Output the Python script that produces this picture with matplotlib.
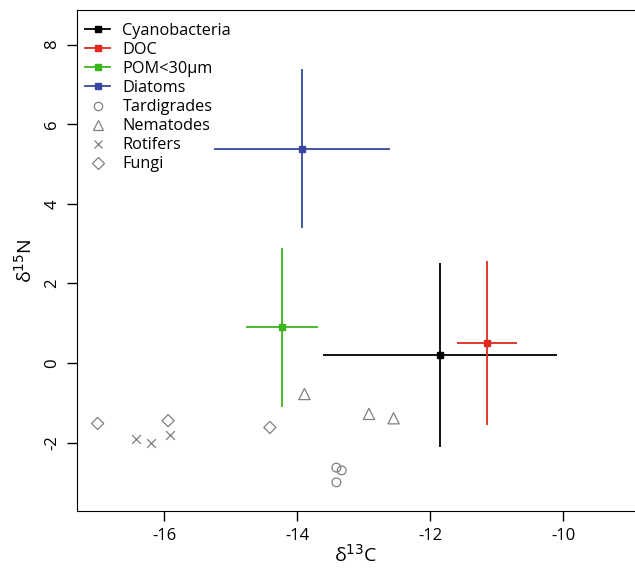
import matplotlib
matplotlib.use("Agg")
import matplotlib.pyplot as plt
from matplotlib.lines import Line2D

plt.rcParams['font.family'] = ['Open Sans', 'DejaVu Sans']
plt.rcParams['axes.unicode_minus'] = False

# Sources (mean +/- sd)
src_names = ["Cyanobacteria", "DOC", "POM<30µm", "Diatoms"]
src_colors = ["#000000", "#e2291f", "#3cb41c", "#3848a0"]
src_x = [-11.85, -11.14, -14.23, -13.93]
src_y = [0.2, 0.5, 0.9, 5.38]
src_xerr = [1.76, 0.45, 0.54, 1.32]
src_yerr = [2.3, 2.05, 2.0, 2.0]

# Consumers
tard_x = [-13.41, -13.33, -13.41]
tard_y = [-2.63, -2.70, -3.0]
nema_x = [-13.89, -12.92, -12.55]
nema_y = [-0.78, -1.28, -1.39]
roti_x = [-16.43, -16.2, -15.91]
roti_y = [-1.91, -2.0, -1.81]
fungi_x = [-17.0, -15.94, -14.41]
fungi_y = [-1.52, -1.45, -1.62]

fig = plt.figure(figsize=(6.35, 5.68), dpi=100)
ax = fig.add_axes([77/635, 1-511/568, 1-77/635, (511-10)/568])

for n, c, x, y, xe, ye in zip(src_names, src_colors, src_x, src_y, src_xerr, src_yerr):
    ax.errorbar([x], [y], xerr=[xe], yerr=[ye], fmt='s', color=c, ms=5,
                elinewidth=1.3, capsize=0, zorder=3)

grey = "#808080"
ax.scatter(tard_x, tard_y, marker='o', facecolors='none', edgecolors=grey, s=40, linewidths=0.9)
ax.scatter(nema_x, nema_y, marker='^', facecolors='none', edgecolors=grey, s=65, linewidths=0.9)
ax.scatter(roti_x, roti_y, marker='x', color=grey, s=40, linewidths=0.9)
ax.scatter(fungi_x, fungi_y, marker='D', facecolors='none', edgecolors=grey, s=38, linewidths=0.9)

ax.set_xlim(-17.31, -8.92)
ax.set_ylim(-3.72, 8.87)
ax.set_xticks([-16, -14, -12, -10])
ax.set_yticks([-2, 0, 2, 4, 6, 8])
ax.spines['right'].set_visible(False)
ax.tick_params(direction='out', length=7, width=1, labelsize=12, pad=5)
for lab in ax.get_yticklabels():
    lab.set_rotation(90)
    lab.set_va('center')
ax.set_xlabel("δ$^{13}$C", fontsize=14, labelpad=0)
ax.set_ylabel("δ$^{15}$N", fontsize=14, labelpad=6)

handles = [Line2D([], [], color=c, marker='s', ms=5, lw=1.3) for c in src_colors]
handles += [
    Line2D([], [], ls='none', marker='o', mfc='none', mec=grey, ms=6, mew=0.9),
    Line2D([], [], ls='none', marker='^', mfc='none', mec=grey, ms=7.5, mew=0.9),
    Line2D([], [], ls='none', marker='x', color=grey, ms=6, mew=0.9),
    Line2D([], [], ls='none', marker='D', mfc='none', mec=grey, ms=6, mew=0.9),
]
labels = src_names + ["Tardigrades", "Nematodes", "Rotifers", "Fungi"]
ax.legend(handles, labels, loc='upper left', bbox_to_anchor=(-0.006, 0.997), frameon=False,
          fontsize=11.7, handlelength=1.55, handletextpad=0.75, labelspacing=0.19,
          borderaxespad=0.3)

fig.savefig("out.png", dpi=100)
